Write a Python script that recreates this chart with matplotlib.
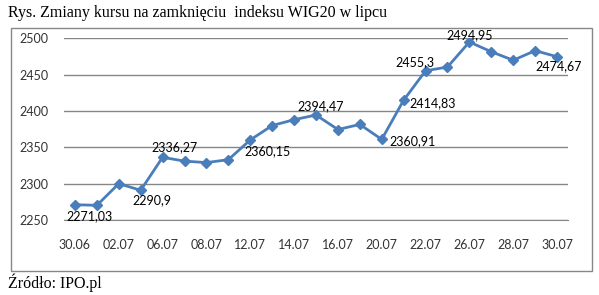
import matplotlib
matplotlib.use("Agg")
import matplotlib.pyplot as plt
from matplotlib.patches import Rectangle

# dni sesyjne w lipcu (+ 30.06)
dates = ["30.06", "01.07", "02.07", "05.07", "06.07", "07.07", "08.07", "09.07",
         "12.07", "13.07", "14.07", "15.07", "16.07", "19.07", "20.07", "21.07",
         "22.07", "23.07", "26.07", "27.07", "28.07", "29.07", "30.07"]
wig20 = [2271.03, 2270.2, 2300.0, 2290.9, 2336.27, 2331.0, 2329.0, 2333.0,
         2360.15, 2380.0, 2388.0, 2394.47, 2374.5, 2381.5, 2360.91, 2414.83,
         2455.3, 2460.5, 2494.95, 2481.5, 2469.8, 2483.0, 2474.67]

# etykiety danych: indeks punktu, tekst
label_idx = [0, 3, 4, 8, 11, 14, 15, 16, 18, 22]
label_txt = ["2271,03", "2290,9", "2336,27", "2360,15", "2394,47",
             "2360,91", "2414,83", "2455,3", "2494,95", "2474,67"]
# przesunięcia etykiet w pikselach (dx, dy)
label_off = [(15, -11), (11, -10), (12, 10), (17, -11), (5, 9),
             (31, -2), (29, -3), (-11, 9), (0, 7), (2, -9)]

W, H = 599, 295
fig = plt.figure(figsize=(W / 100, H / 100), dpi=100)

# ramka wykresu
fig.patches.append(Rectangle((10.8 / W, 1 - 270.5 / H), (592 - 10.8) / W, (270.5 - 27.8) / H,
                             transform=fig.transFigure, fill=False,
                             edgecolor="#878787", linewidth=1))

ax = fig.add_axes([64 / W, 1 - 220 / H, (568 - 64) / W, (220 - 38.3) / H])
x = list(range(len(dates)))
ax.plot(x, wig20, color="#4A7EBB", linewidth=2, marker="D", markersize=5.5,
        markerfacecolor="#4A7EBB", markeredgecolor="#4A7EBB", zorder=3)

ax.set_xlim(-0.5, len(dates) - 0.5)
ax.set_ylim(2250, 2500)
ax.set_yticks(range(2250, 2501, 50))
ax.set_xticks(x[::2])
ax.set_xticklabels(dates[::2])
ax.grid(axis="y", color="#868686", linewidth=1)
ax.set_axisbelow(True)
for s in ["left", "right", "top"]:
    ax.spines[s].set_visible(False)
ax.spines["bottom"].set_color("#868686")
ax.tick_params(axis="both", length=0, labelsize=9, labelcolor="#333333")
ax.tick_params(axis="y", pad=11)
ax.tick_params(axis="x", pad=14)
for t in ax.get_xticklabels() + ax.get_yticklabels():
    t.set_family("Lato")

for i, txt, (dx, dy) in zip(label_idx, label_txt, label_off):
    ax.annotate(txt, (i, wig20[i]), xytext=(dx * 0.72, dy * 0.72),
                textcoords="offset points", ha="center", va="center",
                fontsize=9, family="Lato", color="black")

fig.text(8 / W, 1 - 13 / H, "Rys. Zmiany kursu na zamknięciu  indeksu WIG20 w lipcu",
         family="Liberation Serif", fontsize=11.5, va="center", ha="left")
fig.text(8 / W, 1 - 283 / H, "Źródło: IPO.pl",
         family="Liberation Serif", fontsize=11.5, va="center", ha="left")

fig.savefig("out.png", dpi=100)
